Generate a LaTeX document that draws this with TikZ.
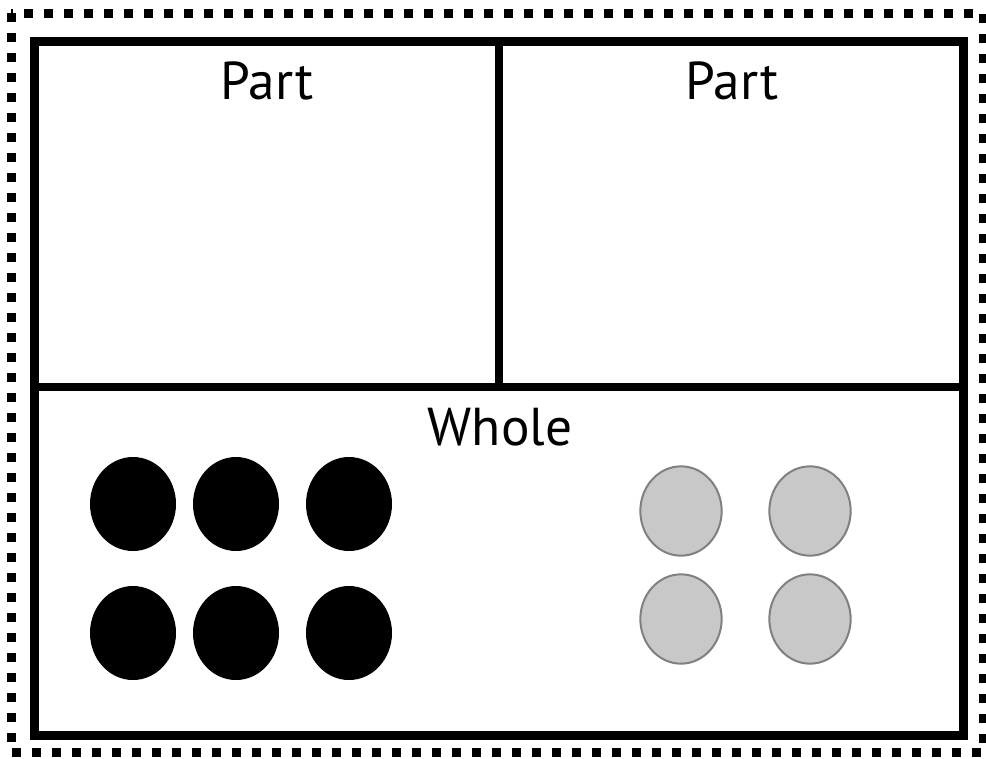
\documentclass[tikz,border=0pt]{standalone}
\usepackage{fontspec}
\setmainfont{PT Sans}
\usetikzlibrary{shapes.geometric}
\definecolor{chipfill}{HTML}{C8C8C8}
\definecolor{chipline}{HTML}{808080}

\begin{document}
\begin{tikzpicture}[
    x=0.75pt,
    y=-0.75pt,
    every node/.style={font=\fontsize{40}{48}\selectfont},
    label/.style={anchor=base, inner sep=0pt},
    frame/.style={line width=6.75pt},
    divider/.style={line width=6pt},
    border/.style={line width=6.75pt, dash pattern=on 6.75pt off 8.25pt},
    dark/.style={ellipse, fill=black, inner sep=0pt, minimum width=64.5pt, minimum height=70.5pt},
    light/.style={ellipse, draw=chipline, fill=chipfill, line width=1.5pt, inner sep=0pt, minimum width=61pt, minimum height=67pt}
]
    \useasboundingbox (0,0) rectangle (986,758);

    % outer dotted border and the bar model
    \draw[border] (11,13) rectangle (983,752);
    \draw[frame] (34,41) rectangle (963,735);
    \draw[divider] (34,387) -- (963,387);
    \draw[divider] (499,41) -- (499,387);

    \node[label] (partl) at (267,99) {Part};
    \node[label] (partr) at (732,99) {Part};
    \node[label] (whole) at (500,445) {Whole};

    % counters
    \node[dark] (d1) at (133,504) {};
    \node[dark] (d2) at (236,504) {};
    \node[dark] (d3) at (349,504) {};
    \node[dark] (d4) at (133,633) {};
    \node[dark] (d5) at (236,633) {};
    \node[dark] (d6) at (349,633) {};

    \node[light] (g1) at (681,511) {};
    \node[light] (g2) at (810,511) {};
    \node[light] (g3) at (681,619) {};
    \node[light] (g4) at (810,619) {};
\end{tikzpicture}
\end{document}
